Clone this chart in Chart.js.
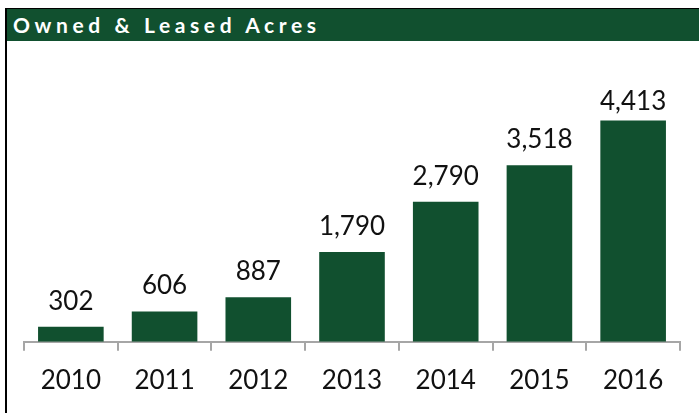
<!DOCTYPE html>
<html>
<head>
<meta charset="utf-8">
<script src="https://cdn.jsdelivr.net/npm/chart.js@4"></script>
<style>
  html, body { margin: 0; padding: 0; background: #fff; }
  #frame {
    position: absolute; left: 5px; top: 8px; width: 694px; height: 405px;
    border-top: 1px solid #000; border-left: 2px solid #000;
  }
  #header {
    position: absolute; left: 7px; top: 9px; width: 692px; height: 32px;
    background: #11502f; color: #fff;
    font-family: Lato, sans-serif; font-weight: 700; font-size: 21px;
    letter-spacing: 4.6px; line-height: 32px; padding-left: 6px; box-sizing: border-box;
  }
  #wrap { position: absolute; left: 7px; top: 42px; width: 692px; height: 371px; }
</style>
</head>
<body>
<div id="frame"></div>
<div id="header">Owned &amp; Leased Acres</div>
<div id="wrap"><canvas id="acresChart"></canvas></div>
<script>
const years = ['2010', '2011', '2012', '2013', '2014', '2015', '2016'];
const acres = [302, 606, 887, 1790, 2790, 3518, 4413];

const barColor = '#11502f';
const axisColor = '#a6a6a6';

// value labels above bars, kept inside the plot area like Excel does
const valueLabels = {
  id: 'valueLabels',
  afterDatasetsDraw(chart) {
    const ctx = chart.ctx;
    const meta = chart.getDatasetMeta(0);
    ctx.save();
    ctx.font = '26px Lato';
    ctx.fillStyle = '#111';
    ctx.textAlign = 'center';
    ctx.textBaseline = 'alphabetic';
    meta.data.forEach((bar, i) => {
      const y = Math.max(bar.y - 17, chart.chartArea.top + 19);
      ctx.fillText(acres[i].toLocaleString('en-US'), bar.x, y);
    });
    ctx.restore();
  }
};

const ctx = document.getElementById('acresChart').getContext('2d');
new Chart(ctx, {
  type: 'bar',
  data: {
    labels: years,
    datasets: [{
      data: acres,
      backgroundColor: barColor,
      categoryPercentage: 1,
      barPercentage: 0.7
    }]
  },
  options: {
    responsive: true,
    maintainAspectRatio: false,
    animation: false,
    layout: { padding: { left: 17, right: 19, top: 49, bottom: 3 } },
    plugins: {
      legend: { display: false },
      tooltip: { enabled: false }
    },
    scales: {
      x: {
        grid: {
          drawOnChartArea: false,
          drawTicks: true,
          tickLength: 9,
          color: axisColor,
          lineWidth: 2
        },
        border: { color: axisColor, width: 2 },
        ticks: {
          color: '#111',
          padding: 14,
          font: { family: 'Lato', size: 26 }
        }
      },
      y: {
        display: false,
        min: 0,
        max: 5000
      }
    }
  },
  plugins: [valueLabels]
});
</script>
</body>
</html>
